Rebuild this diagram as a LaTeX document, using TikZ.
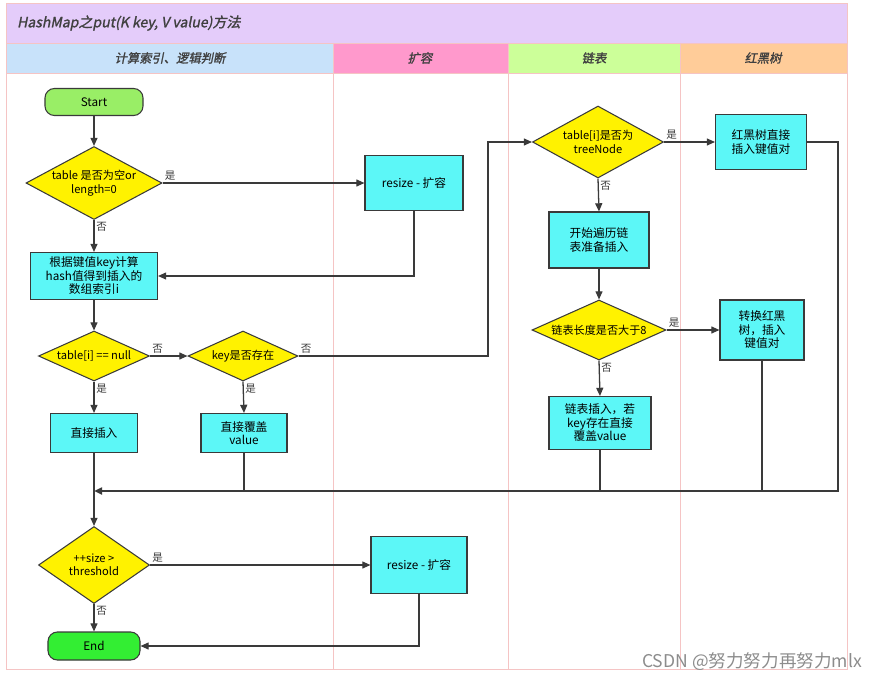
\documentclass[tikz,border=0pt]{standalone}
\usepackage{fontspec}
\setmainfont{Noto Sans CJK SC}
\newfontfamily\hdrfont{Noto Sans CJK SC}[FakeSlant=0.2,FakeBold=1.5]
\usetikzlibrary{shapes.geometric,arrows.meta}
\definecolor{lineclr}{HTML}{3A3A3A}
\definecolor{laneclr}{HTML}{F5C4C4}
\definecolor{titleclr}{HTML}{E4CCFA}
\definecolor{hdrA}{HTML}{C8E2FA}
\definecolor{hdrB}{HTML}{FF99CC}
\definecolor{hdrC}{HTML}{CCFF99}
\definecolor{hdrD}{HTML}{FFCC99}
\definecolor{boxclr}{HTML}{5CF7F7}
\definecolor{startclr}{HTML}{99EE66}
\definecolor{endclr}{HTML}{33EE33}
\tikzset{
  flow/.style={draw=lineclr,line width=1.1pt,-{Triangle[length=7pt,width=6pt]}},
  link/.style={draw=lineclr,line width=1.1pt},
  decision/.style={diamond,aspect=2,draw=lineclr,line width=0.9pt,fill=yellow,inner sep=0pt,
    align=center,font=\fontsize{9.5}{11.5}\selectfont},
  process/.style={rectangle,draw=lineclr,line width=0.9pt,fill=boxclr,inner sep=0pt,
    align=center,font=\fontsize{10}{11.5}\selectfont},
  terminal/.style={rectangle,rounded corners=8pt,draw=lineclr,line width=0.9pt,inner sep=0pt,
    font=\fontsize{10}{11.5}\selectfont},
  lbl/.style={inner sep=1.5pt,text=lineclr,font=\fontsize{9}{10}\selectfont},
  hdr/.style={font=\hdrfont\fontsize{10.5}{12}\selectfont,text=black!75}
}
\begin{document}
\begin{tikzpicture}[x=0.03cm,y=-0.03cm]
  \useasboundingbox (0,0) rectangle (877,678);
  % lanes
  \fill[titleclr] (6,3) rectangle (847,43);
  \fill[hdrA] (6,43) rectangle (333,73);
  \fill[hdrB] (333,43) rectangle (508,73);
  \fill[hdrC] (508,43) rectangle (680,73);
  \fill[hdrD] (680,43) rectangle (847,73);
  \draw[laneclr,line width=0.5pt] (6,3) rectangle (847,669);
  \foreach \x in {333,508,680}
    \draw[laneclr,line width=0.5pt] (\x,43) -- (\x,669);
  \draw[laneclr,line width=0.5pt] (6,43) -- (847,43) (6,73) -- (847,73);
  \node[hdr,anchor=west,font=\hdrfont\fontsize{12}{14}\selectfont] (title) at (13,23) {HashMap之put(K key, V value)方法};
  \node[hdr] (laneA) at (170,58) {计算索引、逻辑判断};
  \node[hdr] (laneB) at (420,58) {扩容};
  \node[hdr] (laneC) at (594,58) {链表};
  \node[hdr] (laneD) at (763,58) {红黑树};

  % nodes
  \node[terminal,fill=startclr,minimum width=2.94cm,minimum height=0.81cm] (start) at (94,102) {Start};
  \node[decision,minimum width=4.08cm,minimum height=2.19cm] (empty) at (94,183) {table 是否为空or\\length=0};
  \node[process,minimum width=2.94cm,minimum height=1.65cm] (resizeA) at (414,183) {resize - 扩容};
  \node[process,minimum width=3.81cm,minimum height=1.41cm] (hash) at (94,276) {根据键值key计算\\hash值得到插入的\\数组索引i};
  \node[decision,minimum width=3.33cm,minimum height=1.5cm] (isnull) at (94,356) {table[i] == null};
  \node[decision,minimum width=3.3cm,minimum height=1.5cm] (haskey) at (243,356) {key是否存在};
  \node[process,minimum width=2.61cm,minimum height=1.17cm] (insert) at (94,433) {直接插入};
  \node[process,minimum width=2.58cm,minimum height=1.17cm] (cover) at (244,433) {直接覆盖\\value};
  \node[decision,minimum width=3.93cm,minimum height=2.16cm] (istree) at (598,142) {table[i]是否为\\treeNode};
  \node[process,minimum width=2.73cm,minimum height=1.65cm] (treeput) at (761,142) {红黑树直接\\插入键值对};
  \node[process,minimum width=3.0cm,minimum height=1.68cm] (walk) at (599,240) {开始遍历链\\表准备插入};
  \node[decision,minimum width=4.02cm,minimum height=1.8cm] (len) at (599,330) {链表长度是否大于8};
  \node[process,minimum width=2.52cm,minimum height=1.8cm] (convert) at (762,330) {转换红黑\\树，插入\\键值对};
  \node[process,minimum width=3.06cm,minimum height=1.59cm] (listput) at (600,423) {链表插入，若\\key存在直接\\覆盖value};
  \node[decision,minimum width=3.33cm,minimum height=2.31cm] (size) at (94,565) {++size >\\threshold};
  \node[process,minimum width=2.88cm,minimum height=1.71cm] (resizeB) at (419,565) {resize - 扩容};
  \node[terminal,fill=endclr,minimum width=2.76cm,minimum height=0.84cm] (end) at (94,646) {End};
  \coordinate (jump) at (488,356);
  \coordinate (corner) at (838,491);
  \coordinate (merge) at (94,491);

  % connectors
  \draw[flow] (start) -- (empty);
  \draw[flow] (empty.east) -- node[lbl,pos=0,anchor=south west] (y1) {是} (resizeA.west);
  \draw[flow] (empty.south) -- node[lbl,pos=0,anchor=north west] (n1) {否} (hash.north);
  \draw[flow] (resizeA.south) |- (hash.east);
  \draw[flow] (hash) -- (isnull);
  \draw[flow] (isnull.east) -- node[lbl,pos=0,anchor=south west] (n2) {否} (haskey.west);
  \draw[flow] (isnull.south) -- node[lbl,pos=0,anchor=north west] (y2) {是} (insert.north);
  \draw[flow] (haskey.south) -- node[lbl,pos=0,anchor=north west] (y3) {是} (cover.north);
  \draw[flow] (haskey.east) -- node[lbl,pos=0,anchor=south west] (n3) {否} (jump) |- (istree.west);
  \draw[flow] (istree.east) -- node[lbl,pos=0,anchor=south west] (y4) {是} (treeput.west);
  \draw[flow] (istree.south) -- node[lbl,pos=0,anchor=north west] (n4) {否} (walk.north);
  \draw[flow] (walk) -- (len);
  \draw[flow] (len.east) -- node[lbl,pos=0,anchor=south west] (y5) {是} (convert.west);
  \draw[flow] (len.south) -- node[lbl,pos=0,anchor=north west] (n5) {否} (listput.north);
  \draw[flow,line width=1.8pt] (treeput.east) -| (corner) -- (merge);
  \draw[link] (convert.south) -- (convert.south |- merge);
  \draw[link] (listput.south) -- (listput.south |- merge);
  \draw[link] (cover.south) -- (cover.south |- merge);
  \draw[flow] (insert.south) -- (size.north);
  \draw[flow] (size.east) -- node[lbl,pos=0,anchor=south west] (y6) {是} (resizeB.west);
  \draw[flow] (size.south) -- node[lbl,pos=0,anchor=north west] (n6) {否} (end.north);
  \draw[flow] (resizeB.south) |- (end.east);

  \node[anchor=south east,inner sep=0pt,text=black!45,font=\fontsize{15}{17}\selectfont] (mark) at (862,671) {CSDN @努力努力再努力mlx};
\end{tikzpicture}
\end{document}
